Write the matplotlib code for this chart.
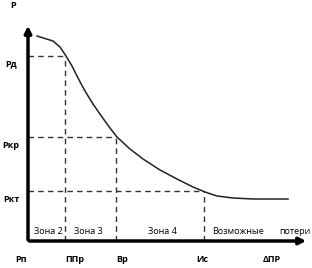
import matplotlib
matplotlib.use("Agg")
import matplotlib.pyplot as plt

# кривая (условные единицы, начало координат в точке пересечения осей)
curve_x = [9, 25, 32, 38, 44, 50, 57, 65, 74, 82, 89, 102, 115, 132, 149, 165, 177, 189, 205, 225, 260]
curve_y = [205, 200, 194, 185, 175, 163, 150, 137, 124, 113, 104, 92, 82, 71, 62, 54, 49, 45, 43, 42, 42]

# уровни и границы зон
levels = [185, 104, 50]
level_labels = ["Рд", "Ркр", "Ркт"]
bounds = [37, 88, 176]
x_labels = ["Рп", "ППр", "Вр", "Ис", "ΔПР"]
x_label_pos = [-7, 47, 94, 174, 244]
zones = ["Зона 2", "Зона 3", "Зона 4", "Возможные", "потери"]
zone_pos = [20, 60, 134, 210, 267]

plt.rcParams['font.family'] = ['Open Sans', 'DejaVu Sans']
fig = plt.figure(figsize=(3.12, 2.68), dpi=100)
ax = fig.add_axes([0, 0, 1, 1])
ax.set_xlim(-28, 284)
ax.set_ylim(-27, 241)
ax.axis('off')

# оси
ax.annotate('', xy=(0, 218), xytext=(0, -1.5),
            arrowprops=dict(arrowstyle='-|>', lw=2.5, color='black', mutation_scale=10))
ax.annotate('', xy=(281, 0), xytext=(-1.5, 0),
            arrowprops=dict(arrowstyle='-|>', lw=2.5, color='black', mutation_scale=10))

# пунктир
for lv, b in zip(levels, bounds):
    ax.plot([0, b], [lv, lv], ls=(0, (4, 3)), color='#333333', lw=1)
    ax.plot([b, b], [0, lv], ls=(0, (4, 3)), color='#333333', lw=1)

ax.plot(curve_x, curve_y, color='#222222', lw=1.1)

ax.text(-15, 235, "Р", fontsize=6.5, fontweight='bold', ha='center', va='center')
for lv, lab in zip(levels, level_labels):
    ax.text(-17, lv - 8, lab, fontsize=6.5, fontweight='bold', ha='center', va='center')
for xp, lab in zip(x_label_pos, x_labels):
    ax.text(xp, -18, lab, fontsize=6.5, fontweight='bold', ha='center', va='center')
for xp, lab in zip(zone_pos, zones):
    ax.text(xp, 10, lab, fontsize=6.5, ha='center', va='center')

fig.savefig("out.png", dpi=100)
